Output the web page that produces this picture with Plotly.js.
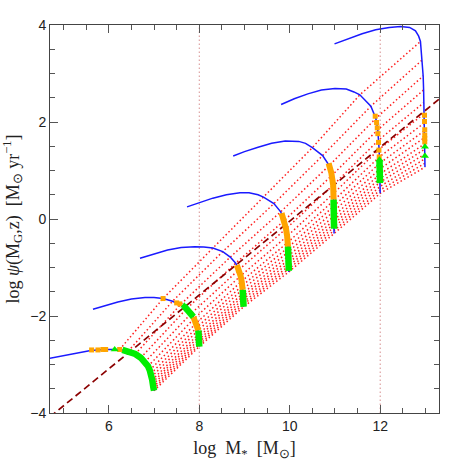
<!DOCTYPE html>
<html>
<head>
<meta charset="utf-8">
<script src="https://cdn.plot.ly/plotly-3.0.1.min.js"></script>
<style>
  body { margin: 0; background: #fff; }
  #chart { width: 463px; height: 463px; }
</style>
</head>
<body>
<div id="chart"></div>
<script>
// tracks for final masses log M* = 7 ... 13
// early (rising) part of each blue track
const earlyX = [
  [4.6, 5.0, 5.3, 5.6, 5.9, 6.1],
  [5.65, 5.9, 6.2, 6.5, 6.8, 7.0],
  [6.69, 7.0, 7.3, 7.6, 7.9, 8.1],
  [7.73, 8.0, 8.3, 8.6, 8.9, 9.1, 9.3],
  [8.75, 9.0, 9.3, 9.6, 9.9, 10.2, 10.35],
  [9.81, 10.1, 10.4, 10.7, 11.0, 11.25, 11.42],
  [10.99, 11.3, 11.6, 11.9, 12.2, 12.45, 12.65, 12.78, 12.85]
]
const earlyY = [
  [-2.89, -2.82, -2.76, -2.71, -2.69, -2.685],
  [-1.86, -1.79, -1.71, -1.65, -1.62, -1.62],
  [-0.81, -0.72, -0.64, -0.59, -0.57, -0.575],
  [0.25, 0.34, 0.43, 0.5, 0.54, 0.54, 0.50],
  [1.30, 1.39, 1.48, 1.56, 1.61, 1.60, 1.56],
  [2.36, 2.48, 2.58, 2.66, 2.69, 2.68, 2.62],
  [3.61, 3.72, 3.82, 3.9, 3.95, 3.97, 3.95, 3.88, 3.77]
]

// points of each track on the isochrones (same step k on every track)
const isoX = [
  [6.24, 6.43, 6.585, 6.707, 6.80, 6.867, 6.905, 6.93, 6.945, 6.96, 6.9675, 6.975, 6.983, 6.992, 7.0],
  [7.2, 7.41, 7.58, 7.72, 7.82, 7.89, 7.93, 7.956, 7.97, 7.982, 7.986, 7.99, 7.994, 7.997, 8.0],
  [8.3, 8.52, 8.685, 8.806, 8.878, 8.914, 8.937, 8.949, 8.959, 8.964, 8.968, 8.971, 8.974, 8.977, 8.98],
  [9.42, 9.65, 9.80, 9.875, 9.918, 9.943, 9.958, 9.963, 9.966, 9.969, 9.972, 9.974, 9.976, 9.978, 9.98],
  [10.5, 10.727, 10.874, 10.929, 10.96, 10.966, 10.97, 10.972, 10.973, 10.975, 10.976, 10.977, 10.978, 10.979, 10.98],
  [11.55, 11.794, 11.904, 11.946, 11.967, 11.976, 11.982, 11.986, 11.989, 11.991, 11.993, 11.995, 11.997, 11.9985, 12.0],
  [12.89, 12.93, 12.95, 12.96, 12.965, 12.97, 12.975, 12.978, 12.98, 12.982, 12.984, 12.986, 12.987, 12.988, 12.99]
]
const isoY = [
  [-2.69, -2.726, -2.784, -2.861, -2.946, -3.036, -3.118, -3.19, -3.255, -3.318, -3.369, -3.415, -3.462, -3.50, -3.54],
  [-1.64, -1.695, -1.77, -1.85, -1.95, -2.05, -2.15, -2.23, -2.30, -2.375, -2.43, -2.49, -2.54, -2.59, -2.63],
  [-0.6, -0.672, -0.785, -0.911, -1.045, -1.173, -1.282, -1.374, -1.45, -1.533, -1.593, -1.653, -1.712, -1.761, -1.81],
  [0.45, 0.317, 0.148, -0.035, -0.202, -0.355, -0.482, -0.587, -0.68, -0.765, -0.842, -0.908, -0.972, -1.031, -1.09],
  [1.47, 1.307, 1.104, 0.895, 0.70, 0.526, 0.38, 0.264, 0.16, 0.06, -0.024, -0.1, -0.169, -0.238, -0.3],
  [2.56, 2.326, 2.075, 1.84, 1.627, 1.437, 1.28, 1.148, 1.03, 0.925, 0.838, 0.758, 0.671, 0.597, 0.53],
  [3.66, 3.28, 2.95, 2.66, 2.40, 2.17, 1.98, 1.82, 1.68, 1.55, 1.44, 1.34, 1.24, 1.15, 1.07]
]

// thick coloured pieces of the tracks
const orangeSegX = [
  [],
  [7.87, 7.93, 7.97, 7.98],
  [8.83, 8.878, 8.914, 8.937, 8.955, 8.96],
  [9.82, 9.875, 9.918, 9.943, 9.962],
  [10.86, 10.92, 10.96, 10.97]
]
const orangeSegY = [
  [],
  [-2.02, -2.15, -2.27, -2.30],
  [-0.95, -1.045, -1.173, -1.282, -1.41, -1.46],
  [0.12, -0.035, -0.202, -0.355, -0.57],
  [1.15, 0.95, 0.70, 0.40]
]
const greenSegX = [
  [6.3, 6.43, 6.585, 6.707, 6.80, 6.867, 6.905, 6.93, 6.96, 6.983, 7.0],
  [7.66, 7.72, 7.80, 7.87],
  [7.98, 7.99, 8.0],
  [8.96, 8.968, 8.974, 8.98],
  [9.962, 9.969, 9.976, 9.98],
  [10.97, 10.975, 10.98],
  [11.984, 11.99, 11.995]
]
const greenSegY = [
  [-2.70, -2.726, -2.784, -2.861, -2.946, -3.036, -3.118, -3.19, -3.318, -3.462, -3.54],
  [-1.79, -1.85, -1.92, -2.02],
  [-2.30, -2.49, -2.63],
  [-1.46, -1.593, -1.712, -1.81],
  [-0.57, -0.765, -0.972, -1.07],
  [0.40, 0.06, -0.2],
  [1.22, 0.95, 0.74]
]

// single markers
const orangeSqX = [5.62, 5.76, 5.87, 5.93, 6.24, 7.2, 7.5, 7.57,
  11.89, 11.92, 11.935, 11.948, 11.962, 11.972, 11.978,
  12.98, 12.98, 12.985, 12.985, 12.985, 12.985]
const orangeSqY = [-2.70, -2.70, -2.69, -2.69, -2.69, -1.64, -1.73, -1.75,
  2.12, 1.99, 1.88, 1.76, 1.58, 1.42, 1.28,
  2.14, 2.01, 1.84, 1.73, 1.66, 1.59]
const greenTriX = [6.13, 7.67, 11.984, 11.987, 11.99, 11.992, 11.994, 12.99, 12.99]
const greenTriY = [-2.69, -1.79, 1.22, 1.12, 1.0, 0.9, 0.8, 1.49, 1.30]

// dashed reference line and vertical guides
const diagX = [4.7, 13.3]
const diagY = [-4.08, 2.47]
const guideX = [8, 12]

const xRange = [4.7, 13.3]
const yRange = [-4, 4]

const withGaps = (xs, ys) => {
  const x = [], y = []
  xs.forEach((row, i) => {
    row.forEach((v, j) => { x.push(v); y.push(ys[i][j]) })
    x.push(null); y.push(null)
  })
  return { x, y }
}

// isochrones: k-th point of every track
const isoLines = () => {
  const rowsX = [], rowsY = []
  for (let k = 0; k < isoX[0].length; k++) {
    rowsX.push(isoX.map(t => t[k]))
    rowsY.push(isoY.map(t => t[k]))
  }
  return withGaps(rowsX, rowsY)
}

const chart = () => {
  const iso = isoLines()
  const blue = withGaps(earlyX.map((r, i) => r.concat(isoX[i])), earlyY.map((r, i) => r.concat(isoY[i])))
  const orange = withGaps(orangeSegX, orangeSegY)
  const green = withGaps(greenSegX, greenSegY)

  const data = [
    {
      x: iso.x, y: iso.y, mode: 'lines', type: 'scatter',
      line: { color: 'rgb(255,30,30)', width: 1.5, dash: '1.5px,2.5px' },
    },
    {
      x: diagX, y: diagY, mode: 'lines', type: 'scatter',
      line: { color: '#8b0000', width: 1.7, dash: '7px,4px' },
    },
    {
      x: blue.x, y: blue.y, mode: 'lines', type: 'scatter',
      line: { color: '#1a1aff', width: 1.5 },
    },
    {
      x: orange.x, y: orange.y, mode: 'lines', type: 'scatter',
      line: { color: '#ffa500', width: 6 },
    },
    {
      x: green.x, y: green.y, mode: 'lines', type: 'scatter',
      line: { color: '#00ee00', width: 6.5 },
    },
    {
      x: orangeSqX, y: orangeSqY, mode: 'markers', type: 'scatter',
      marker: { color: '#ffa500', symbol: 'square', size: 5 },
    },
    {
      x: greenTriX, y: greenTriY, mode: 'markers', type: 'scatter',
      marker: { color: '#00ee00', symbol: 'triangle-up', size: 7 },
    },
    // empty trace so the top/right tick axes get drawn
    { x: [], y: [], xaxis: 'x2', yaxis: 'y2', type: 'scatter', mode: 'lines' },
  ]

  const axis = {
    showline: true, linecolor: '#444', linewidth: 1,
    ticks: 'inside', ticklen: 8, tickwidth: 1, tickcolor: '#555',
    showgrid: false, zeroline: false, dtick: 2, tick0: 0,
    minor: { dtick: 0.5, ticks: 'inside', ticklen: 5, tickcolor: '#555', showgrid: false },
    tickfont: { family: 'Liberation Sans, Arial, sans-serif', size: 14, color: '#222' },
  }
  const titleFont = { family: 'Liberation Serif, Times New Roman, serif', size: 18, color: '#222' }

  const layout = {
    width: 463,
    height: 463,
    margin: { l: 50, r: 24, t: 25, b: 50 },
    showlegend: false,
    paper_bgcolor: '#fff',
    plot_bgcolor: '#fff',
    xaxis: Object.assign({}, axis, {
      range: xRange,
      title: { text: 'log\u00a0\u00a0M<sub>*</sub>\u00a0\u00a0[M<sub>\u2299</sub>]', standoff: 8, font: titleFont },
    }),
    yaxis: Object.assign({}, axis, {
      range: yRange,
      title: { text: 'log\u00a0<i>\u03c8</i>(M<sub>G</sub>,z)\u00a0\u00a0[M<sub>\u2299</sub>\u00a0yr<sup>\u22121</sup>]', standoff: 6, font: titleFont },
    }),
    xaxis2: Object.assign({}, axis, { range: xRange, overlaying: 'x', side: 'top', anchor: 'y2', showticklabels: false }),
    yaxis2: Object.assign({}, axis, { range: yRange, overlaying: 'y', side: 'right', anchor: 'x2', showticklabels: false }),
    shapes: guideX.map(g => ({
      type: 'line', xref: 'x', yref: 'paper', x0: g, x1: g, y0: 0, y1: 1, layer: 'below',
      line: { color: 'rgba(210,130,130,0.9)', width: 1, dash: '1.5px,2.5px' },
    })),
  }

  Plotly.newPlot('chart', data, layout, { staticPlot: true, displayModeBar: false })
}

chart()
</script>
</body>
</html>
